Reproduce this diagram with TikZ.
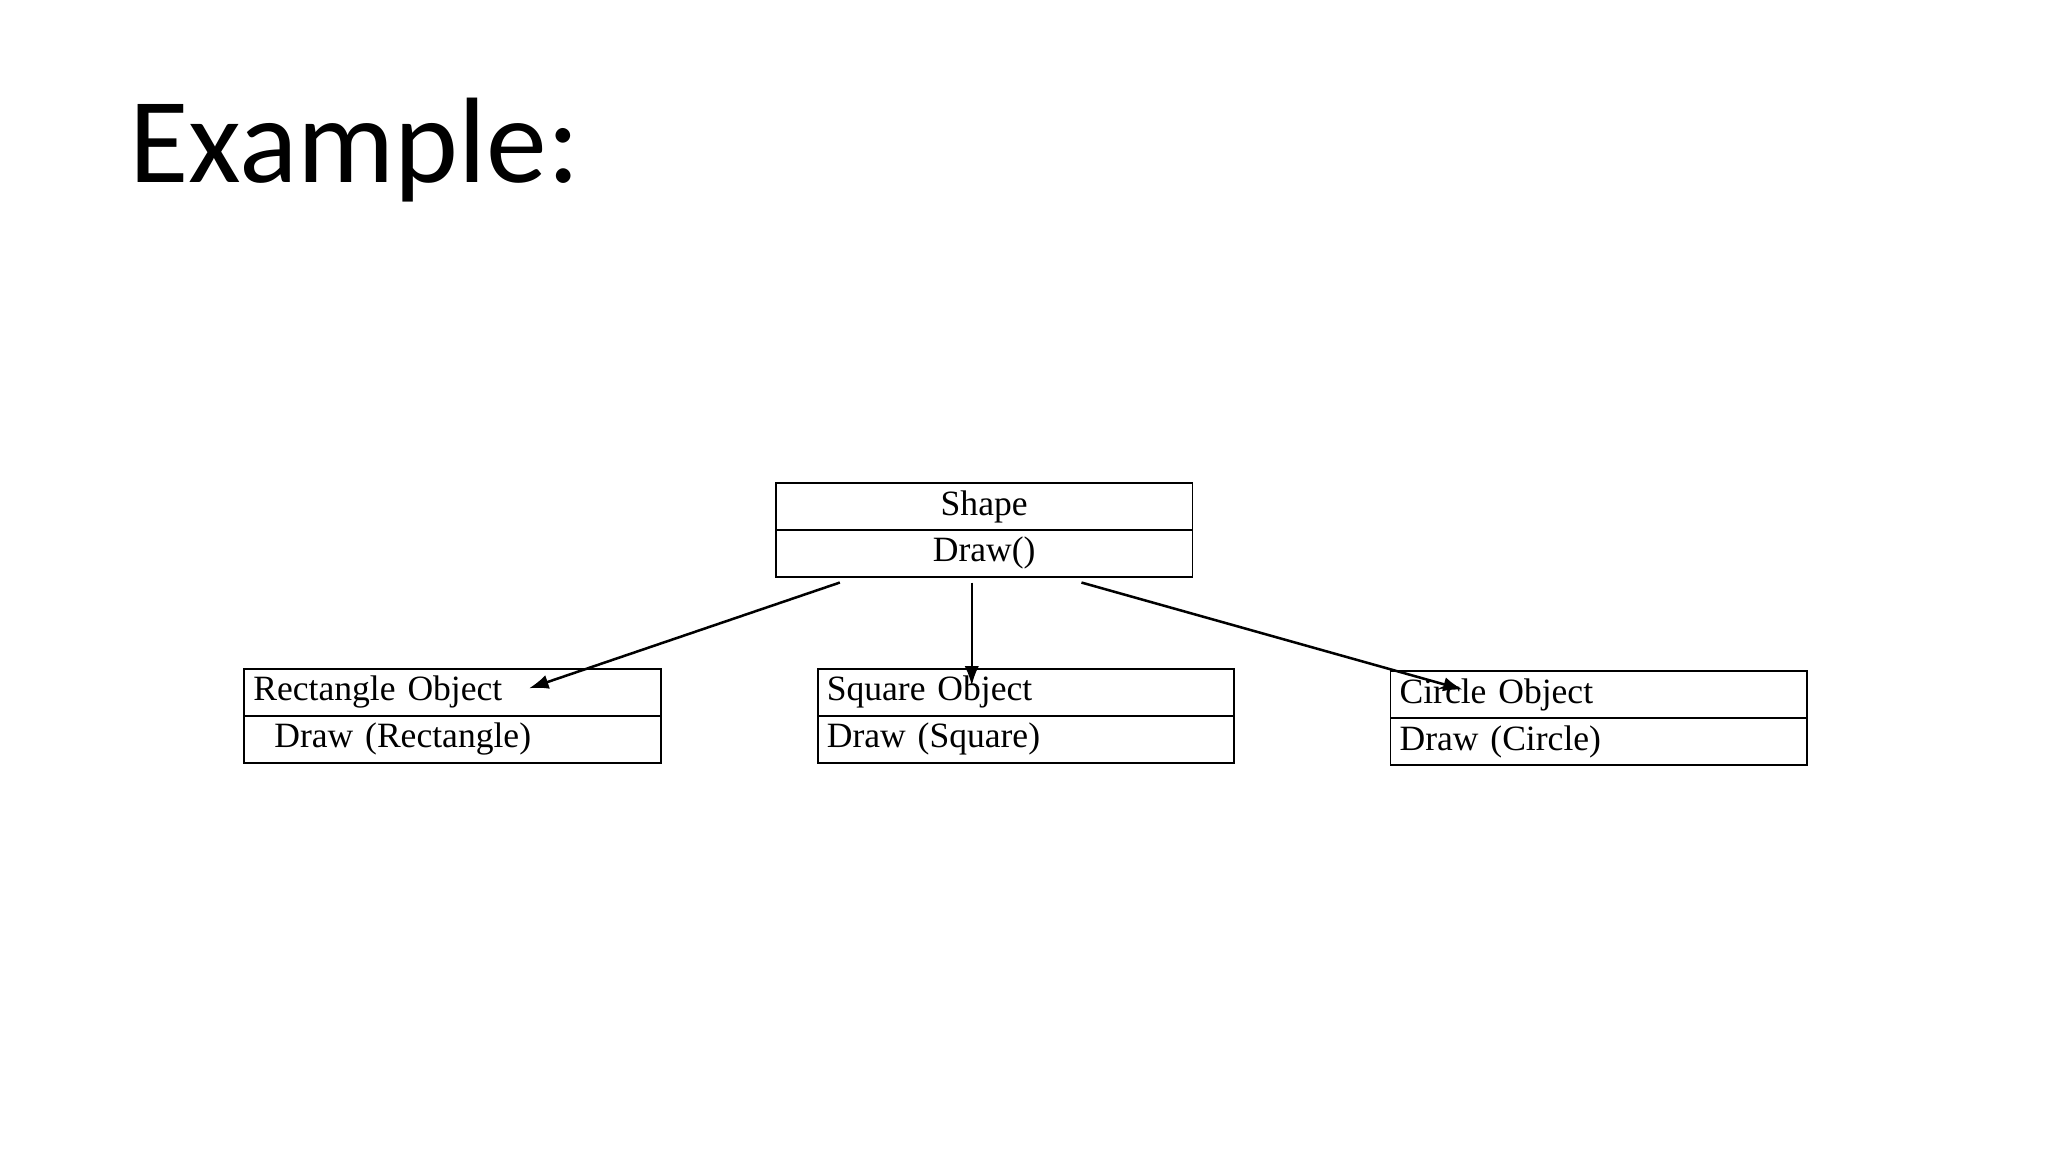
\documentclass[tikz,border=0pt]{standalone}
\usepackage{fontspec}
\setmainfont{Liberation Serif}
\newfontfamily\titlefont{Carlito}
\usetikzlibrary{arrows.meta}
\begin{document}
\begin{tikzpicture}
[x=0.02cm,y=-0.02cm,%
  cell/.style={draw,line width=0.8pt,minimum width=6.38cm,minimum height=0.72cm,inner sep=0pt,font=\fontsize{15.5}{18}\selectfont},%
  leftcell/.style={cell,text width=6.1cm,align=left},%
  link/.style={-{Latex[length=0.3cm,width=0.22cm]},line width=1.1pt}]
\useasboundingbox (0,0) rectangle (1568,882);
\node[anchor=base west,font=\titlefont\fontsize{53}{60}\selectfont] (title) at (93,140) {Example:};
% parent class
\node[cell] (shape) at (753.5,388) {Shape};
\node[cell] (shapedraw) at (753.5,423.5) {Draw()};
% derived objects
\node[leftcell] (rect) at (346.5,530) {Rectangle Object};
\node[leftcell] (rectdraw) at (346.5,566) {\hspace{0.32cm}Draw (Rectangle)};
\node[leftcell] (square) at (785.5,530) {Square Object};
\node[leftcell] (squaredraw) at (785.5,566) {Draw (Square)};
\node[leftcell] (circle) at (1224,532) {Circle Object};
\node[leftcell] (circledraw) at (1224,568) {Draw (Circle)};
% arrows
\coordinate (fromrect) at (643,446);
\coordinate (fromsquare) at (744,446);
\coordinate (fromcircle) at (828,446);
\coordinate (torect) at (405,527);
\coordinate (tosquare) at (744,525);
\coordinate (tocircle) at (1120,528);
\draw[link] (fromrect) -- (torect);
\draw[link] (fromsquare) -- (tosquare);
\draw[link] (fromcircle) -- (tocircle);
\end{tikzpicture}
\end{document}
